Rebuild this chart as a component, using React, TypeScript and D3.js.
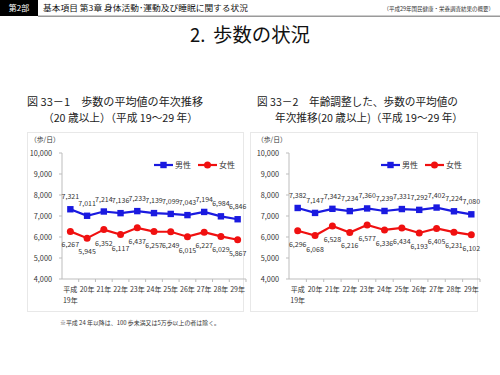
import React from "react";
import * as d3 from "d3";

const years = ["平成19年", "20年", "21年", "22年", "23年", "24年", "25年", "26年", "27年", "28年", "29年"];
const yTicks = [4000, 5000, 6000, 7000, 8000, 9000, 10000];
const male1 = [7321, 7011, 7214, 7136, 7233, 7139, 7099, 7043, 7194, 6984, 6846];
const female1 = [6267, 5945, 6352, 6117, 6437, 6257, 6249, 6015, 6227, 6029, 5867];
const male2 = [7382, 7147, 7342, 7234, 7360, 7239, 7331, 7292, 7402, 7224, 7080];
const female2 = [6296, 6068, 6528, 6216, 6577, 6336, 6434, 6193, 6405, 6231, 6102];

const FONT = "'Noto Sans CJK JP', 'Noto Sans', sans-serif";
const BLUE = "#1a1ae0";
const RED = "#f01010";
const fmt = d3.format(",");

type ChartProps = {
  axisX: number;
  right: number;
  male: number[];
  female: number[];
  legendX: number;
};

function Chart({ axisX, right, male, female, legendX }: ChartProps) {
  const x = d3.scaleBand<string>().domain(years).range([axisX, right]);
  const y = d3.scaleLinear().domain([4000, 10000]).range([279, 153]);
  const cx = (i: number) => (x(years[i]) as number) + x.bandwidth() / 2;
  const line = d3
    .line<number>()
    .x((_, i) => cx(i))
    .y((d) => y(d));
  const bw = x.bandwidth();
  return (
    <g fontFamily={FONT}>
      <line x1={axisX} x2={axisX} y1={y(10000)} y2={y(4000)} stroke="#bdbdbd" strokeWidth={1} />
      {yTicks.map((t) => (
        <g key={t}>
          <line x1={axisX - 3} x2={axisX} y1={y(t)} y2={y(t)} stroke="#bdbdbd" />
          <text x={axisX - 10} y={y(t) + 2.6} fontSize={7.3} textAnchor="end" fill="#333">
            {fmt(t)}
          </text>
        </g>
      ))}
      <line x1={axisX} x2={right} y1={y(4000)} y2={y(4000)} stroke="#bdbdbd" />
      {years.map((yr, i) => {
        const bx = (x(yr) as number) + bw;
        return (
          <g key={yr}>
            <line x1={bx} x2={bx} y1={y(4000)} y2={y(4000) + 3} stroke="#bdbdbd" />
            {i === 0 ? (
              <text x={cx(i)} y={292} fontSize={7} textAnchor="middle" fill="#333">
                <tspan x={cx(i)} y={292}>平成</tspan>
                <tspan x={cx(i)} y={303}>19年</tspan>
              </text>
            ) : (
              <text x={cx(i)} y={292} fontSize={7} textAnchor="middle" fill="#333">
                {yr}
              </text>
            )}
          </g>
        );
      })}
      <path d={line(male) || ""} fill="none" stroke={BLUE} strokeWidth={2.2} />
      <path d={line(female) || ""} fill="none" stroke={RED} strokeWidth={2.2} />
      {male.map((v, i) => (
        <g key={"m" + i}>
          <rect x={cx(i) - 3.2} y={y(v) - 3.2} width={6.4} height={6.4} fill={BLUE} />
          <text x={cx(i)} y={y(v) - 10} fontSize={7} textAnchor="middle" fill="#333">
            {fmt(v)}
          </text>
        </g>
      ))}
      {female.map((v, i) => (
        <g key={"f" + i}>
          <circle cx={cx(i)} cy={y(v)} r={3.5} fill={RED} />
          <text x={cx(i)} y={y(v) + 16} fontSize={7} textAnchor="middle" fill="#333">
            {fmt(v)}
          </text>
        </g>
      ))}
      <g>
        <line x1={legendX} x2={legendX + 19} y1={165} y2={165} stroke={BLUE} strokeWidth={2.2} />
        <rect x={legendX + 6.3} y={161.8} width={6.4} height={6.4} fill={BLUE} />
        <text x={legendX + 21} y={168} fontSize={8} fill="#333">男性</text>
        <line x1={legendX + 44} x2={legendX + 63} y1={165} y2={165} stroke={RED} strokeWidth={2.2} />
        <circle cx={legendX + 53.5} cy={165} r={3.5} fill={RED} />
        <text x={legendX + 65} y={168} fontSize={8} fill="#333">女性</text>
      </g>
      <text x={axisX - 32} y={142} fontSize={6.8} fill="#333">（歩/日）</text>
    </g>
  );
}

export default function App() {
  return (
    <svg width={500} height={375} style={{ position: "absolute", left: 0, top: 0, background: "#fff" }}>
      <rect width={500} height={375} fill="#fff" />
      <rect x={0} y={0} width={38} height={16} fill="#000" />
      <text x={19} y={11} fontSize={8} fill="#fff" textAnchor="middle" fontFamily={FONT}>第2部</text>
      <text x={43} y={11} fontSize={8} fill="#111" fontFamily={FONT} textLength={205} lengthAdjust="spacingAndGlyphs">基本項目 第3章 身体活動･運動及び睡眠に関する状況</text>
      <text x={494} y={11} fontSize={5.5} fill="#333" textAnchor="end" fontFamily={FONT}>（平成29年国民健康・栄養調査結果の概要）</text>
      <rect x={38} y={15.5} width={462} height={1.5} fill="#9a9a9a" />
      <text x={190} y={42} fontSize={18.5} fill="#111" fontFamily={FONT}>2.</text>
      <text x={213} y={42} fontSize={19} fill="#111" fontFamily={FONT} textLength={97} lengthAdjust="spacingAndGlyphs">歩数の状況</text>
      <text x={27} y={106} fontSize={10.8} fill="#222" fontFamily={FONT} textLength={176} lengthAdjust="spacingAndGlyphs">図 33－1　歩数の平均値の年次推移</text>
      <text x={43} y={122} fontSize={10.8} fill="#222" fontFamily={FONT} textLength={155} lengthAdjust="spacingAndGlyphs">（20 歳以上）（平成 19～29 年）</text>
      <text x={257} y={106} fontSize={10.8} fill="#222" fontFamily={FONT} textLength={201} lengthAdjust="spacingAndGlyphs">図 33－2　年齢調整した、歩数の平均値の</text>
      <text x={275} y={122} fontSize={10.8} fill="#222" fontFamily={FONT} textLength={188} lengthAdjust="spacingAndGlyphs">年次推移(20 歳以上)（平成 19～29 年）</text>
      <rect x={27.5} y={132.5} width={216} height={179} fill="none" stroke="#e8e8e8" />
      <rect x={250.5} y={132.5} width={227} height={179} fill="none" stroke="#e8e8e8" />
      <Chart axisX={62} right={246} male={male1} female={female1} legendX={154} />
      <Chart axisX={289} right={480} male={male2} female={female2} legendX={381} />
      <text x={60} y={325} fontSize={5.5} fill="#333" fontFamily={FONT} textLength={160} lengthAdjust="spacingAndGlyphs">※平成 24 年以降は、100 歩未満又は5万歩以上の者は除く。</text>
    </svg>
  );
}
